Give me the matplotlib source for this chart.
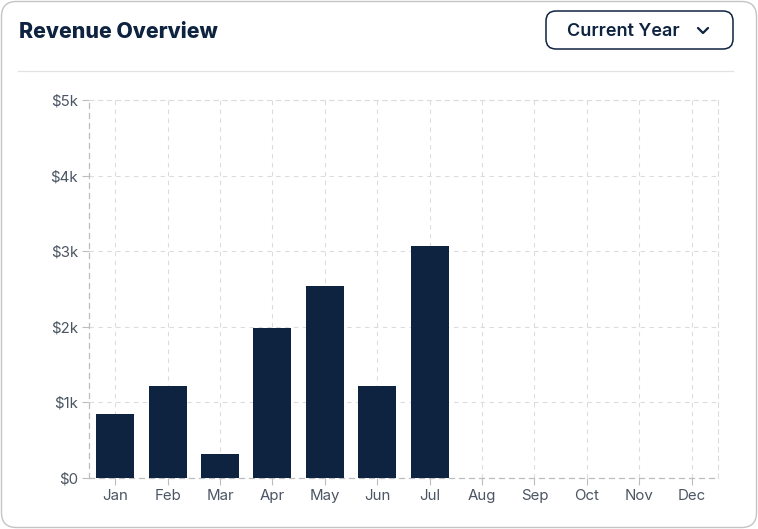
import matplotlib
matplotlib.use("Agg")
import matplotlib.pyplot as plt
from matplotlib.patches import FancyBboxPatch
from matplotlib.lines import Line2D
from matplotlib.transforms import IdentityTransform

# Revenue per month (Aug-Dec not yet recorded)
months = ["Jan", "Feb", "Mar", "Apr", "May", "Jun",
          "Jul", "Aug", "Sep", "Oct", "Nov", "Dec"]
revenue = [850, 1220, 320, 1980, 2540, 1220, 3070, 0, 0, 0, 0, 0]
y_ticks = [0, 1000, 2000, 3000, 4000, 5000]
y_labels = ["$0", "$1k", "$2k", "$3k", "$4k", "$5k"]

NAVY = "#0e2340"
GRID = "#dcdcdc"
TICK = "#4b5563"

W, H = 758, 529
fig = plt.figure(figsize=(W / 100, H / 100), dpi=100)
fig.patch.set_facecolor("white")
px = IdentityTransform()


def top(y):
    # pixel y measured from the top of the image
    return H - y


# card outline
card = FancyBboxPatch((1.5, 1.5), W - 3, H - 3,
                      boxstyle="round,pad=0,rounding_size=15",
                      transform=px, facecolor="none", edgecolor="#c4c4c4",
                      linewidth=1.0, zorder=5)
fig.patches.append(card)

# header
fig.text(19 / W, top(31.5) / H, "Revenue Overview", fontsize=15.3,
         fontweight="heavy", family="Inter", color=NAVY, va="center", ha="left")

btn = FancyBboxPatch((546, top(49)), 187, 38,
                     boxstyle="round,pad=0,rounding_size=10",
                     transform=px, facecolor="white", edgecolor=NAVY,
                     linewidth=1.1)
fig.patches.append(btn)
fig.text(567 / W, top(31.5) / H, "Current Year", fontsize=13,
         fontweight="semibold", family="Inter", color=NAVY,
         va="center", ha="left")
fig.lines.append(Line2D([698, 703, 708], [top(28), top(33), top(28)],
                        transform=px, color=NAVY, linewidth=1.6,
                        solid_capstyle="round", solid_joinstyle="round"))

fig.lines.append(Line2D([18, 733], [top(70.5), top(70.5)], transform=px,
                        color="#e2e2e2", linewidth=0.9))

# chart area
left, right, y_top, y_bot = 89, 717.8, 100, 478
ax = fig.add_axes([left / W, (H - y_bot) / H, (right - left) / W,
                   (y_bot - y_top) / H])
ax.patch.set_alpha(0)
x = list(range(len(months)))
ax.bar(x, revenue, width=0.725, color=NAVY, zorder=3)

ax.set_xlim(-0.5, len(months) - 0.5)
ax.set_ylim(0, 5000)
ax.set_xticks(x)
ax.set_xticklabels(months)
ax.set_yticks(y_ticks)
ax.set_yticklabels(y_labels)

ax.grid(True, color=GRID, linestyle=(0, (4, 4)), linewidth=0.8, zorder=0)
for s in ["top", "right"]:
    ax.spines[s].set_color(GRID)
    ax.spines[s].set_linestyle((0, (4, 4)))
    ax.spines[s].set_linewidth(0.8)
for s in ["left", "bottom"]:
    ax.spines[s].set_color("#bdbdbd")
    ax.spines[s].set_linestyle((0, (4, 4)))
    ax.spines[s].set_linewidth(0.9)

ax.tick_params(axis="both", colors="#bdbdbd", labelcolor=TICK,
               labelsize=10.8, length=5, width=0.8)
ax.tick_params(axis="x", pad=3)
ax.tick_params(axis="y", pad=3)
for lbl in ax.get_xticklabels() + ax.get_yticklabels():
    lbl.set_family("Inter")

fig.savefig("out.png", dpi=100)
